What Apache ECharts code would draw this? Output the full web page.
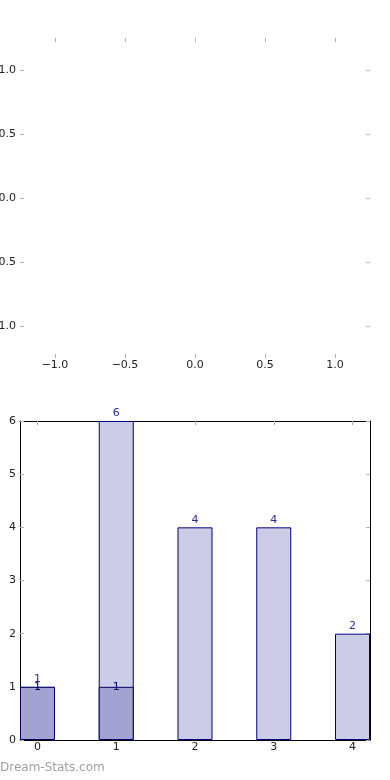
<!DOCTYPE html>
<html>
<head>
<meta charset="utf-8">
<script src="https://cdn.jsdelivr.net/npm/echarts@6/dist/echarts.min.js"></script>
<style>
html,body{margin:0;padding:0;background:#fff;}
#c{width:390px;height:780px;}
</style>
</head>
<body>
<div id="c"></div>
<script>
// Top (empty) axes ticks
var topTicks = [-1.0, -0.5, 0.0, 0.5, 1.0];
// Bottom bar chart
var categories = [0, 1, 2, 3, 4];
var lightValues = [1, 6, 4, 4, 2];
var darkValues = [1, 1, 0, 0, 0];

var FONT = 'DejaVu Sans';
var tickColor = '#b0b0b0';
var labelColor = '#222';

function fmt(v) {
  var s = Number(v).toFixed(1);
  return s.replace('-', '\u2212');
}

var chart = echarts.init(document.getElementById('c'));

var lightData = categories.map(function (c, i) { return [c, lightValues[i]]; });
var darkData = [];
categories.forEach(function (c, i) { if (darkValues[i] > 0) darkData.push([c, darkValues[i]]); });

function tick(vals) {
  var t = { show: true, inside: true, length: 4, lineStyle: { color: tickColor, width: 1 } };
  if (vals) t.customValues = vals;
  return t;
}
var noLine = { show: false, onZero: false };
var blackLine = { show: true, onZero: false, lineStyle: { color: '#000', width: 1 } };

var option = {
  animation: false,
  backgroundColor: '#fff',
  grid: [
    { left: 20, right: 20, top: 38, height: 320, containLabel: false, outerBoundsMode: 'none' },
    { left: 20, right: 20, top: 421, height: 319, containLabel: false, outerBoundsMode: 'none' }
  ],
  xAxis: [
    {
      type: 'value', gridIndex: 0, position: 'bottom', min: -1.25, max: 1.25,
      axisLine: noLine, splitLine: { show: false }, axisTick: tick(topTicks),
      axisLabel: { customValues: topTicks, formatter: fmt, color: labelColor, fontFamily: FONT, fontSize: 11, margin: 2 }
    },
    {
      type: 'value', gridIndex: 0, position: 'top', min: -1.25, max: 1.25,
      axisLine: noLine, splitLine: { show: false }, axisTick: tick(topTicks),
      axisLabel: { show: false }
    },
    {
      type: 'value', gridIndex: 1, position: 'bottom', min: -0.2222, max: 4.2222,
      axisLine: blackLine, splitLine: { show: false }, axisTick: tick(categories),
      axisLabel: { customValues: categories, color: labelColor, fontFamily: FONT, fontSize: 11, margin: 2 }
    },
    {
      type: 'value', gridIndex: 1, position: 'top', min: -0.2222, max: 4.2222,
      axisLine: blackLine, splitLine: { show: false }, axisTick: tick(categories),
      axisLabel: { show: false }
    }
  ],
  yAxis: [
    {
      type: 'value', gridIndex: 0, position: 'left', min: -1.25, max: 1.25,
      axisLine: noLine, splitLine: { show: false }, axisTick: tick(topTicks),
      axisLabel: { customValues: topTicks, formatter: fmt, color: labelColor, fontFamily: FONT, fontSize: 11, margin: 4 }
    },
    {
      type: 'value', gridIndex: 0, position: 'right', min: -1.25, max: 1.25,
      axisLine: noLine, splitLine: { show: false }, axisTick: tick(topTicks),
      axisLabel: { show: false }
    },
    {
      type: 'value', gridIndex: 1, position: 'left', min: 0, max: 6, interval: 1,
      axisLine: blackLine, splitLine: { show: false }, axisTick: tick(),
      axisLabel: { color: labelColor, fontFamily: FONT, fontSize: 11, margin: 4 }
    },
    {
      type: 'value', gridIndex: 1, position: 'right', min: 0, max: 6, interval: 1,
      axisLine: blackLine, splitLine: { show: false }, axisTick: tick(),
      axisLabel: { show: false }
    }
  ],
  series: [
    {
      type: 'bar', xAxisIndex: 2, yAxisIndex: 2, data: lightData,
      barWidth: 35, barGap: '-100%',
      itemStyle: { color: '#ccccE6', borderColor: '#000080', borderWidth: 1 },
      label: { show: true, position: 'top', distance: 2, color: '#2a2a9a', fontFamily: FONT, fontSize: 11,
        formatter: function (p) { return p.value[1]; } },
      z: 2
    },
    {
      type: 'bar', xAxisIndex: 2, yAxisIndex: 2, data: darkData,
      barWidth: 35, barGap: '-100%',
      itemStyle: { color: '#a3a3d1', borderColor: '#000066', borderWidth: 1 },
      label: { show: true, position: ['50%', 0], align: 'center', verticalAlign: 'middle', color: '#000066',
        fontFamily: FONT, fontSize: 11, formatter: function (p) { return p.value[1]; } },
      z: 3
    }
  ],
  graphic: [
    { type: 'text', left: 0, top: 762, style: { text: 'Dream-Stats.com', fill: '#a0a0a0', font: '12px "DejaVu Sans"' } }
  ]
};
chart.setOption(option);
</script>
</body>
</html>
